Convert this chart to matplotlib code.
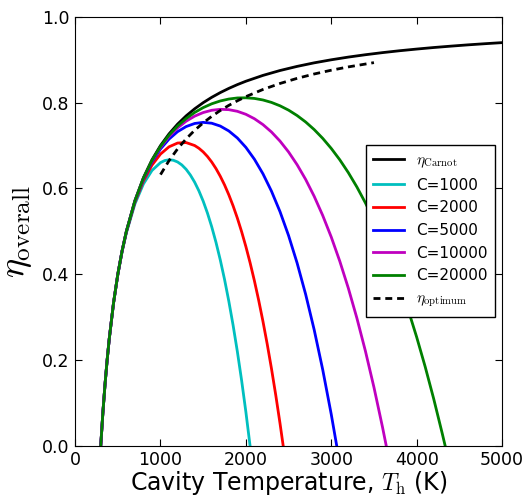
import matplotlib
matplotlib.use('Agg')
import matplotlib.pyplot as plt

plt.rcParams['mathtext.fontset'] = 'cm'
plt.rcParams['font.family'] = 'DejaVu Sans'

# Carnot efficiency
T_carnot = [300, 325, 350, 375, 400, 450, 500, 550, 600, 700, 800, 900, 1000, 1100, 1200,
            1300, 1400, 1500, 1600, 1700, 1800, 1900, 2000, 2200, 2400, 2600, 2800, 3000,
            3200, 3400, 3600, 3800, 4000, 4200, 4400, 4600, 4800, 5000]
eta_carnot = [0.0, 0.0769, 0.1429, 0.2, 0.25, 0.3333, 0.4, 0.4545, 0.5, 0.5714, 0.625,
              0.6667, 0.7, 0.7273, 0.75, 0.7692, 0.7857, 0.8, 0.8125, 0.8235, 0.8333,
              0.8421, 0.85, 0.8636, 0.875, 0.8846, 0.8929, 0.9, 0.9063, 0.9118, 0.9167,
              0.9211, 0.925, 0.9286, 0.9318, 0.9348, 0.9375, 0.94]

# concentration ratio curves
T_c1000 = [300, 325, 350, 375, 400, 450, 500, 550, 600, 700, 800, 900, 1000, 1050, 1100,
           1150, 1200, 1250, 1300, 1350, 1400, 1450, 1500, 1550, 1600, 1650, 1700, 1750,
           1800, 1850, 1900, 1950, 2000, 2049]
eta_c1000 = [0.0, 0.0769, 0.1427, 0.1998, 0.2496, 0.3326, 0.3986, 0.4522, 0.4963, 0.5637,
             0.6105, 0.6419, 0.6603, 0.6651, 0.6669, 0.6658, 0.6618, 0.6548, 0.6447,
             0.6313, 0.6146, 0.5943, 0.5704, 0.5425, 0.5106, 0.4743, 0.4335, 0.3880,
             0.3373, 0.2814, 0.2199, 0.1525, 0.0789, 0.0]

T_c2000 = [300, 325, 350, 375, 400, 450, 500, 550, 600, 700, 800, 900, 1000, 1100, 1200,
           1300, 1400, 1450, 1500, 1550, 1600, 1650, 1700, 1750, 1800, 1850, 1900, 1950,
           2000, 2050, 2100, 2150, 2200, 2250, 2300, 2350, 2400, 2437]
eta_c2000 = [0.0, 0.0769, 0.1428, 0.1999, 0.2498, 0.3330, 0.3993, 0.4534, 0.4982, 0.5675,
             0.6177, 0.6543, 0.6802, 0.6971, 0.7059, 0.7070, 0.7001, 0.6937, 0.6852,
             0.6745, 0.6616, 0.6463, 0.6285, 0.6083, 0.5853, 0.5596, 0.5310, 0.4993,
             0.4645, 0.4263, 0.3846, 0.3392, 0.2901, 0.2370, 0.1797, 0.1181, 0.0520, 0.0]

T_c5000 = [300, 325, 350, 375, 400, 450, 500, 550, 600, 700, 800, 900, 1000, 1100, 1200,
           1300, 1400, 1500, 1600, 1700, 1800, 1900, 2000, 2100, 2200, 2300, 2400, 2500,
           2600, 2700, 2800, 2900, 3000, 3064]
eta_c5000 = [0.0, 0.0769, 0.1428, 0.2000, 0.2499, 0.3332, 0.3997, 0.4541, 0.4993, 0.5699,
             0.6221, 0.6617, 0.6921, 0.7152, 0.7324, 0.7443, 0.7515, 0.7541, 0.7521,
             0.7455, 0.7341, 0.7177, 0.6958, 0.6681, 0.6342, 0.5936, 0.5458, 0.4902,
             0.4262, 0.3532, 0.2705, 0.1775, 0.0733, 0.0]

T_c10000 = [300, 325, 350, 375, 400, 450, 500, 550, 600, 700, 800, 900, 1000, 1100, 1200,
            1300, 1400, 1500, 1600, 1700, 1800, 1900, 2000, 2100, 2200, 2300, 2400, 2500,
            2600, 2700, 2800, 2900, 3000, 3100, 3200, 3300, 3400, 3500, 3600, 3644]
eta_c10000 = [0.0, 0.0769, 0.1429, 0.2000, 0.2500, 0.3333, 0.3999, 0.4543, 0.4996,
              0.5707, 0.6236, 0.6642, 0.6960, 0.7212, 0.7412, 0.7568, 0.7686, 0.7770,
              0.7823, 0.7845, 0.7837, 0.7799, 0.7729, 0.7626, 0.7489, 0.7316, 0.7104,
              0.6851, 0.6554, 0.6211, 0.5817, 0.5370, 0.4867, 0.4303, 0.3675, 0.2978,
              0.2209, 0.1364, 0.0437, 0.0]

T_c20000 = [300, 325, 350, 375, 400, 450, 500, 550, 600, 700, 800, 900, 1000, 1100, 1200,
            1300, 1400, 1500, 1600, 1700, 1800, 1900, 2000, 2100, 2200, 2300, 2400, 2500,
            2600, 2700, 2800, 2900, 3000, 3100, 3200, 3300, 3400, 3500, 3600, 3700,
            3800, 3900, 4000, 4100, 4200, 4300, 4334]
eta_c20000 = [0.0, 0.0769, 0.1429, 0.2000, 0.2500, 0.3333, 0.3999, 0.4544, 0.4998,
              0.5710, 0.6243, 0.6654, 0.6980, 0.7243, 0.7456, 0.7630, 0.7772, 0.7885,
              0.7974, 0.8040, 0.8085, 0.8110, 0.8114, 0.8099, 0.8063, 0.8006, 0.7927,
              0.7826, 0.7700, 0.7550, 0.7373, 0.7168, 0.6933, 0.6668, 0.6369, 0.6035,
              0.5664, 0.5253, 0.4802, 0.4307, 0.3766, 0.3177, 0.2537, 0.1844, 0.1094,
              0.0286, 0.0]

# optimum efficiency locus
T_opt = [1000, 1100, 1200, 1300, 1400, 1500, 1600, 1700, 1800, 1900, 2000, 2200, 2400,
         2600, 2800, 3000, 3200, 3500]
eta_opt = [0.6323, 0.6649, 0.6923, 0.7156, 0.7356, 0.7529, 0.7682, 0.7817, 0.7937,
           0.8044, 0.8141, 0.8308, 0.8448, 0.8567, 0.8669, 0.8757, 0.8834, 0.8934]

curves = [(T_c1000, eta_c1000, 'C=1000', (0, 0.75, 0.75)),
          (T_c2000, eta_c2000, 'C=2000', 'red'),
          (T_c5000, eta_c5000, 'C=5000', 'blue'),
          (T_c10000, eta_c10000, 'C=10000', (0.75, 0, 0.75)),
          (T_c20000, eta_c20000, 'C=20000', (0, 0.5, 0))]

fig = plt.figure(figsize=(5.29, 4.97), dpi=100)
ax = fig.add_axes([0.142, 0.103, 0.807, 0.863])

ax.plot(T_carnot, eta_carnot, color='black', lw=2, label=r'$\eta_\mathrm{Carnot}$')
for T, eta, lab, col in curves:
    ax.plot(T, eta, color=col, lw=2, label=lab)
ax.plot(T_opt, eta_opt, color='black', lw=2, dashes=(2.5, 1.75),
        label=r'$\eta_\mathrm{optimum}$')

ax.set_xlim(0, 5000)
ax.set_ylim(0, 1.0)
ax.set_xticks([0, 1000, 2000, 3000, 4000, 5000])
ax.set_yticks([0.0, 0.2, 0.4, 0.6, 0.8, 1.0])
ax.set_yticklabels(['0.0', '0.2', '0.4', '0.6', '0.8', '1.0'])
ax.tick_params(direction='in', top=True, right=True, length=5, labelsize=12.5, pad=4)

ax.set_xlabel(r'Cavity Temperature, $T_\mathrm{h}$ (K)', fontsize=17, labelpad=0)
ax.set_ylabel(r'$\eta_\mathrm{overall}$', fontsize=26, labelpad=6)

leg = ax.legend(loc='upper right', bbox_to_anchor=(0.984, 0.702), borderaxespad=0,
                fontsize=11, fancybox=False, framealpha=1, edgecolor='black',
                handlelength=2.0, borderpad=0.5, labelspacing=0.5)
leg.get_frame().set_linewidth(1)

fig.savefig('out.png', dpi=100, facecolor='white')
